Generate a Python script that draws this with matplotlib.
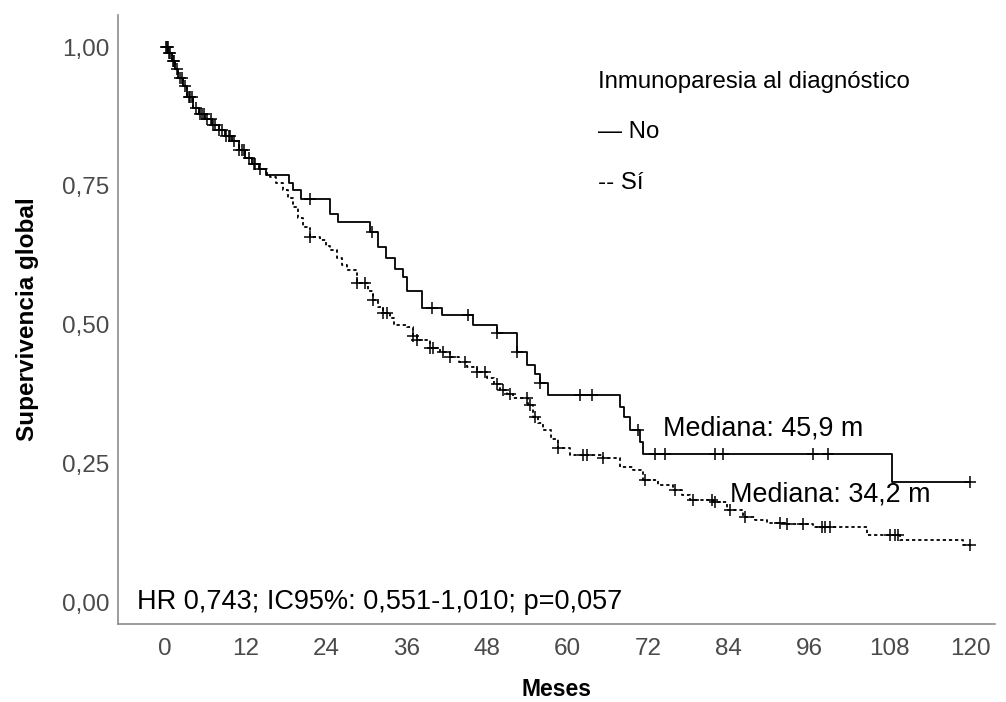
import numpy as np
import matplotlib
matplotlib.use("Agg")
import matplotlib.pyplot as plt

plt.rcParams['font.family'] = ['Liberation Sans', 'DejaVu Sans']

# ---- data ----
# "No" group (solid): step times (months) and survival after each step
no_times = [0, 0.5, 1.0, 1.5, 2.0, 2.7, 3.3, 4.2, 5.0, 6.0, 7.0, 8.0, 9.0, 10.0, 11.0,
            12.0, 13.0, 14.0, 15.0, 18.5, 19.1, 20.3, 24.6, 25.8, 30.5, 31.8, 33.0,
            34.3, 35.5, 36.1, 38.3, 41.3, 45.9, 49.5, 52.5, 54.0, 55.2, 55.9, 57.1,
            67.8, 68.4, 69.3, 70.8, 71.3, 108.4, 120.0]
no_surv = [1.0, 0.99, 0.975, 0.96, 0.945, 0.93, 0.91, 0.89, 0.88, 0.87, 0.86, 0.85, 0.84,
           0.83, 0.815, 0.80, 0.79, 0.78, 0.77, 0.755, 0.742, 0.726, 0.70, 0.685, 0.667,
           0.64, 0.62, 0.60, 0.585, 0.56, 0.53, 0.517, 0.50, 0.485, 0.45, 0.427, 0.41,
           0.395, 0.373, 0.351, 0.333, 0.31, 0.288, 0.267, 0.216, 0.216]
no_censor = [0.3, 0.6, 1.2, 2.2, 3.8, 5.5, 7.2, 9.5, 11.5, 13.2, 21.6, 30.9, 39.8, 45.2,
             49.5, 52.5, 55.9, 61.9, 63.7, 70.5, 73.0, 74.5, 82.0, 83.2, 96.6, 98.8, 120.0]

# "Sí" group (dashed)
si_times = [0, 0.5, 1.0, 1.5, 2.0, 2.7, 3.3, 4.2, 5.0, 6.0, 7.0, 8.0, 9.0, 10.0, 11.0,
            12.0, 13.0, 14.0, 15.2, 15.7, 16.5, 17.6, 18.3, 19.1, 19.8, 20.5, 21.6, 23.1,
            24.0, 24.6, 25.6, 26.4, 27.1, 28.6, 30.3, 31.0, 31.8, 32.5, 33.5, 34.2, 36.1,
            37.0, 37.6, 39.5, 41.0, 42.5, 43.8, 45.0, 46.5, 48.0, 49.0, 49.9, 51.0, 51.9,
            54.1, 54.9, 55.6, 56.4, 57.5, 58.6, 60.4, 65.3, 67.8, 69.8, 71.3, 73.5, 75.7,
            77.0, 78.3, 81.7, 83.8, 86.2, 88.0, 89.7, 92.7, 96.6, 104.7, 109.6, 119.0,
            120.0]
si_surv = [1.0, 0.99, 0.975, 0.96, 0.945, 0.93, 0.91, 0.89, 0.88, 0.87, 0.86, 0.85, 0.84,
           0.83, 0.815, 0.80, 0.79, 0.78, 0.77, 0.766, 0.755, 0.742, 0.728, 0.712, 0.692,
           0.675, 0.658, 0.652, 0.642, 0.634, 0.62, 0.608, 0.598, 0.575, 0.56, 0.544,
           0.532, 0.521, 0.512, 0.50, 0.495, 0.48, 0.472, 0.458, 0.45, 0.441, 0.432,
           0.423, 0.414, 0.404, 0.393, 0.382, 0.375, 0.368, 0.355, 0.333, 0.322, 0.31,
           0.293, 0.277, 0.265, 0.259, 0.243, 0.238, 0.22, 0.21, 0.202, 0.193, 0.184,
           0.18, 0.166, 0.153, 0.147, 0.142, 0.14, 0.135, 0.121, 0.112, 0.103, 0.103]
si_censor = [0.2, 0.4, 0.8, 1.3, 1.8, 2.5, 3.0, 3.6, 4.0, 4.6, 5.2, 5.8, 6.3, 6.8, 7.4,
             8.0, 8.5, 9.1, 9.7, 10.3, 11.0, 11.8, 12.5, 13.4, 14.2, 21.6, 28.6, 29.8,
             31.0, 32.5, 33.1, 37.0, 37.6, 39.5, 40.0, 41.4, 42.5, 44.7, 46.5, 47.7, 49.5,
             50.4, 51.4, 54.0, 54.4, 55.2, 58.6, 62.3, 62.9, 65.3, 71.6, 76.0, 78.7, 81.5,
             82.0, 84.2, 86.4, 91.7, 92.7, 95.1, 97.9, 98.4, 99.1, 108.1, 108.8, 109.3,
             120.0]

x_ticks = [0, 12, 24, 36, 48, 60, 72, 84, 96, 108, 120]
y_ticks = [0.0, 0.25, 0.50, 0.75, 1.00]
y_ticklabels = ['0,00', '0,25', '0,50', '0,75', '1,00']


def step_value(times, surv, t):
    times = np.asarray(times)
    surv = np.asarray(surv)
    idx = np.searchsorted(times, t, side='right') - 1
    return surv[np.clip(idx, 0, len(surv) - 1)]


fig = plt.figure(figsize=(10.06, 7.02), dpi=100)
L, R, B, T = 117.5, 995, 624, 15
ax = fig.add_axes([L / 1006, 1 - B / 702, (R - L) / 1006, (B - T) / 702])

lw = 1.3
ax.step(no_times, no_surv, where='post', color='black', lw=lw, zorder=3)
ax.step(si_times, si_surv, where='post', color='black', lw=lw,
        linestyle=(0, (1.8, 1.6)), zorder=3)
ax.plot(no_censor, step_value(no_times, no_surv, no_censor), linestyle='none',
        marker='+', ms=9, mew=1.1, color='black', zorder=4)
ax.plot(si_censor, step_value(si_times, si_surv, si_censor), linestyle='none',
        marker='+', ms=9, mew=1.1, color='black', zorder=4)

# data-to-pixel mapping: month 0 at x=165, month 120 at x=970; surv 1 at y=47, 0 at y=602
px_per_month = (970 - 165) / 120
px_per_unit = 602 - 47
ax.set_xlim((L - 165) / px_per_month, (R - 165) / px_per_month)
ax.set_ylim((602 - B) / px_per_unit, (602 - T) / px_per_unit)
ax.set_xticks(x_ticks)
ax.set_xticklabels([str(t) for t in x_ticks])
ax.set_yticks(y_ticks)
ax.set_yticklabels(y_ticklabels)
ax.tick_params(axis='both', length=0, labelsize=17.5, colors='#4a4a4a')
ax.tick_params(axis='x', pad=10)
ax.tick_params(axis='y', pad=6)
for s in ['top', 'right']:
    ax.spines[s].set_visible(False)
for s in ['left', 'bottom']:
    ax.spines[s].set_color('#8c8c8c')
    ax.spines[s].set_linewidth(1.2)

ax.set_xlabel('Meses', fontsize=16.5, fontweight='bold', labelpad=13)
ax.set_ylabel('Supervivencia global', fontsize=17.5, fontweight='bold', labelpad=16)

ax.text(-4.2, 0.0, 'HR 0,743; IC95%: 0,551-1,010; p=0,057', fontsize=19.5, va='center', ha='left')
ax.text(74.2, 0.313, 'Mediana: 45,9 m', fontsize=19.4, va='center', ha='left')
ax.text(84.2, 0.193, 'Mediana: 34,2 m', fontsize=19.4, va='center', ha='left')

ax.text(64.5, 0.937, 'Inmunoparesia al diagnóstico', fontsize=17.3, va='center', ha='left')
ax.text(64.5, 0.847, '— No', fontsize=17.3, va='center', ha='left')
ax.text(64.5, 0.755, '-- Sí', fontsize=17.3, va='center', ha='left')

fig.savefig('out.png', dpi=100)
